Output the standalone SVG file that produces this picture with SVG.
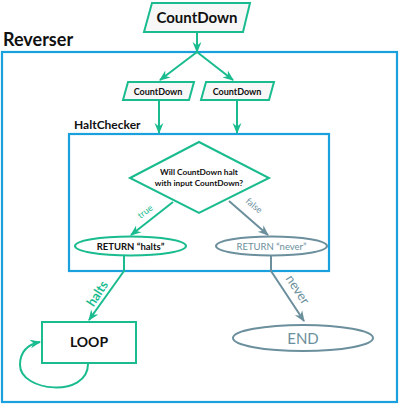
<svg xmlns="http://www.w3.org/2000/svg" width="403" height="407" viewBox="0 0 403 407">
<defs>
<style>
.g{stroke:#1abc8f;stroke-width:2;fill:none}
.gy{stroke:#6b8f9c;stroke-width:2;fill:none}
.bl{stroke:#1aa0dc;stroke-width:2.2;fill:#fff}
.pg{stroke:#1abc8f;stroke-width:2;fill:#f7f7f7}
text{font-family:Lato,"Open Sans","Liberation Sans",sans-serif}
.b{font-weight:bold;fill:#111}
</style>
<marker id="ag" viewBox="0 0 10 10" refX="9" refY="5" markerWidth="5.5" markerHeight="5.5" orient="auto" markerUnits="strokeWidth"><path d="M0,1 L10,5 L0,9 L3,5 z" fill="#1abc8f"/></marker>
<marker id="ay" viewBox="0 0 10 10" refX="9" refY="5" markerWidth="5.5" markerHeight="5.5" orient="auto" markerUnits="strokeWidth"><path d="M0,1 L10,5 L0,9 L3,5 z" fill="#6b8f9c"/></marker>
</defs>
<g id="reverser">
<rect class="bl" x="2" y="52" width="395" height="350" fill="none"/>
<text class="b" x="3" y="46" font-size="18">Reverser</text>
</g>
<g id="input">
<polygon class="pg" points="152,3 250,3 243,32 144,32"/>
<text class="b" x="197" y="23" font-size="15" text-anchor="middle">CountDown</text>
</g>
<g id="input1">
<polygon class="pg" points="128,82 194,82 189,100 123,100"/>
<text class="b" x="158" y="95" font-size="9" text-anchor="middle">CountDown</text>
</g>
<g id="input2">
<polygon class="pg" points="206,82 274,82 269,100 201,100"/>
<text class="b" x="237" y="95" font-size="9" text-anchor="middle">CountDown</text>
</g>
<g id="haltchecker">
<rect class="bl" x="69" y="134" width="260" height="137"/>
<text class="b" x="74" y="129" font-size="12">HaltChecker</text>
</g>
<g id="decision">
<polygon points="130,178 199,142 269,178 199,213" fill="#fff" stroke="#1abc8f" stroke-width="2"/>
<text class="b" x="199" y="175" font-size="8.3" text-anchor="middle">Will CountDown halt</text>
<text class="b" x="199" y="186" font-size="8.3" text-anchor="middle">with input CountDown?</text>
</g>
<g id="ret-halts">
<ellipse cx="130.5" cy="246" rx="55.5" ry="9.5" fill="#fff" stroke="#1abc8f" stroke-width="2"/>
<text class="b" x="130.5" y="249.5" font-size="9.5" text-anchor="middle">RETURN “halts”</text>
</g>
<g id="ret-never">
<ellipse cx="271.5" cy="246" rx="55.5" ry="9.5" fill="#fff" stroke="#6b8f9c" stroke-width="2"/>
<text x="271.5" y="249.5" font-size="9.5" text-anchor="middle" fill="#6b8f9c">RETURN “never”</text>
</g>
<g id="loop">
<rect x="42" y="322" width="94" height="41" fill="#fff" stroke="#1abc8f" stroke-width="2"/>
<text class="b" x="89" y="347" font-size="14" text-anchor="middle">LOOP</text>
</g>
<g id="end">
<ellipse cx="303" cy="338" rx="70" ry="13" fill="#fff" stroke="#6b8f9c" stroke-width="2"/>
<text x="303" y="343.5" font-size="15" text-anchor="middle" fill="#6b8f9c">END</text>
</g>
<g id="connectors">
<path class="g" d="M197,32 V52" marker-end="url(#ag)"/>
<path class="g" d="M197,52 L160,80" marker-end="url(#ag)"/>
<path class="g" d="M197,52 L233,80" marker-end="url(#ag)"/>
<path class="g" d="M159,100 V133" marker-end="url(#ag)"/>
<path class="g" d="M237,100 V133" marker-end="url(#ag)"/>
<path class="g" d="M173,202 L131,235" marker-end="url(#ag)"/>
<text x="0" y="0" font-size="9" fill="#1abc8f" text-anchor="middle" transform="translate(147,214) rotate(-37)">true</text>
<path class="gy" d="M229,201 L268,235" marker-end="url(#ay)"/>
<text x="0" y="0" font-size="9" fill="#6b8f9c" text-anchor="middle" transform="translate(252,208) rotate(40)">false</text>
<path class="g" d="M124,256 V271 L89,320" marker-end="url(#ag)"/>
<text x="0" y="0" font-size="13" font-weight="bold" fill="#1abc8f" text-anchor="middle" transform="translate(101,296) rotate(-57)">halts</text>
<path class="gy" d="M271,256 V271 L304,321" marker-end="url(#ay)"/>
<text x="0" y="0" font-size="13" fill="#6b8f9c" text-anchor="middle" transform="translate(294,292) rotate(57)">never</text>
<path class="g" d="M88,364 C88,398 20,392 20,365 C20,350 30,344 40,342" marker-end="url(#ag)"/>
</g>
</svg>
